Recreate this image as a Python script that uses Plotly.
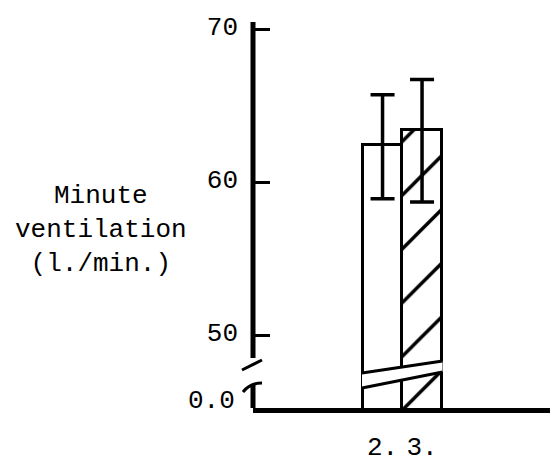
import plotly.graph_objects as go

# ---- data ----
categories = ["2.", "3."]
mean_ventilation = [62.4, 63.4]
error_upper = [65.7, 66.7]
error_lower = [58.9, 58.7]
y_tick_values = [50, 60, 70]
y_tick_labels = ["50", "60", "70"]
zero_label = "0.0"
y_title = "Minute<br>ventilation<br>(l./min.)"

FONT = "Liberation Mono"
Y_RANGE = [45.23, 70.46]
X_RANGE = [-3.28, 4.24]

# helpers for decorations (pixel -> axis coords)
def ypix(p):
    return 50 - (p - 335) / 15.3

def xpaper(p):
    return (p - 253) / 297.0

xs = list(range(len(categories)))
plus = [u - m for u, m in zip(error_upper, mean_ventilation)]
minus = [m - l for m, l in zip(mean_ventilation, error_lower)]

fig = go.Figure()
fig.add_trace(go.Bar(
    x=xs, y=mean_ventilation, width=1,
    marker=dict(color="white", line=dict(color="black", width=3),
                pattern=dict(shape=["", "/"], fgcolor="black", bgcolor="white",
                             fgopacity=1, size=38, solidity=0.09)),
    error_y=dict(type="data", array=plus, arrayminus=minus, color="black",
                 thickness=3.5, width=12),
    showlegend=False,
))

shapes = []
# y-axis line (broken)
shapes.append(dict(type="line", xref="paper", yref="y", x0=0, x1=0,
                   y0=ypix(358), y1=Y_RANGE[1], line=dict(color="black", width=5)))
shapes.append(dict(type="line", xref="paper", yref="y", x0=0, x1=0,
                   y0=Y_RANGE[0], y1=ypix(384), line=dict(color="black", width=5)))
# axis break strokes
shapes.append(dict(type="line", xref="paper", yref="y", x0=xpaper(242), x1=xpaper(262),
                   y0=ypix(370), y1=ypix(360), line=dict(color="black", width=3)))
shapes.append(dict(type="path", xref="paper", yref="y",
                   path=f"M{xpaper(243)},{ypix(392)} Q{xpaper(250)},{ypix(383)} {xpaper(262)},{ypix(383)}",
                   line=dict(color="black", width=3)))
# bar break band (white gap with slanted edges)
xl, xr = -0.52, 1.52
ul, ur = ypix(373), ypix(361)
ll, lr = ypix(388), ypix(372)
shapes.append(dict(type="path", xref="x", yref="y",
                   path=f"M{xl},{ul} L{xr},{ur} L{xr},{lr} L{xl},{ll} Z",
                   fillcolor="white", line=dict(width=0), layer="above"))
shapes.append(dict(type="line", xref="x", yref="y", x0=xl, x1=xr, y0=ul, y1=ur,
                   line=dict(color="black", width=3)))
shapes.append(dict(type="line", xref="x", yref="y", x0=xl, x1=xr, y0=ll, y1=lr,
                   line=dict(color="black", width=3)))

annotations = [
    dict(text=y_title, xref="paper", yref="paper", x=xpaper(101), y=(408 - 230) / 386.0,
         xanchor="center", yanchor="middle", showarrow=False, align="center",
         font=dict(family=FONT, size=26, color="black")),
    dict(text=zero_label, xref="paper", yref="y", x=xpaper(237), y=ypix(401),
         xanchor="right", yanchor="middle", showarrow=False,
         font=dict(family=FONT, size=26, color="black")),
]

fig.update_layout(
    width=550, height=463,
    margin=dict(l=253, r=0, t=22, b=55, autoexpand=False),
    paper_bgcolor="white", plot_bgcolor="white",
    bargap=0,
    shapes=shapes, annotations=annotations,
    font=dict(family=FONT, size=26, color="black"),
    xaxis=dict(range=X_RANGE, tickvals=xs, ticktext=categories, showgrid=False,
               zeroline=False, showline=True, linecolor="black", linewidth=5,
               ticks="", ticklabelstandoff=11, automargin=False,
               tickfont=dict(family=FONT, size=26, color="black")),
    yaxis=dict(range=Y_RANGE, tickvals=y_tick_values, ticktext=y_tick_labels,
               showgrid=False, zeroline=False, showline=False, automargin=False,
               ticks="inside", ticklen=17, tickwidth=3, tickcolor="black",
               ticklabelstandoff=14, ticklabelshift=-3,
               tickfont=dict(family=FONT, size=26, color="black")),
)

fig.write_html("out.html")
